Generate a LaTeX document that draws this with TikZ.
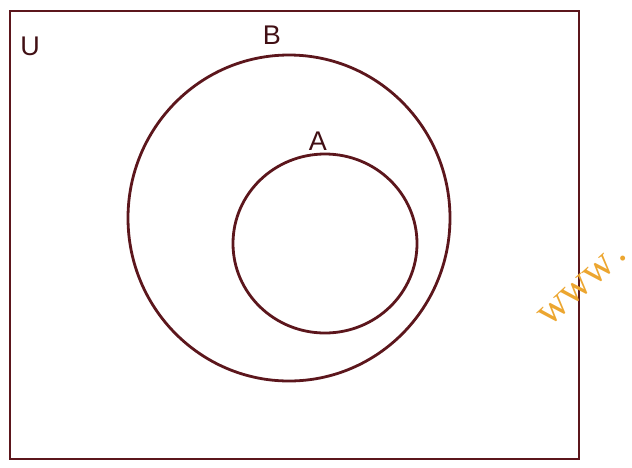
\documentclass[tikz,border=0pt]{standalone}
\usepackage{fontspec}
\setmainfont{Liberation Sans}
\newfontfamily\markfont{Liberation Serif}
\usepackage{tikz}
\usetikzlibrary{positioning}
\definecolor{vennline}{RGB}{92,22,28}
\definecolor{markorange}{RGB}{236,166,48}

\begin{document}
\begin{tikzpicture}[x=1pt,y=-1pt,
setline/.style={draw=vennline,line width=2.8pt},
lbl/.style={inner sep=0pt,text=vennline!70!black,font=\fontsize{27}{27}\selectfont},
wmark/.style={inner sep=0pt,text=markorange,font=\markfont\fontsize{42}{42}\selectfont,rotate=42,anchor=base west}]
\useasboundingbox (0,0) rectangle (632,467);
\draw[setline] (10,11) rectangle (579,459);
\coordinate (cB) at (289,218);
\coordinate (cA) at (325,243.5);
\draw[setline] (cB) ellipse [x radius=161,y radius=163];
\draw[setline] (cA) ellipse [x radius=92,y radius=89.5];
\node[lbl] at (30,46)(U){U};
\node[lbl] at (272,35)(B){B};
\node[lbl] at (318,141)(A){A};
\node[wmark] at (549,328)(www){www\kern5pt.};
\end{tikzpicture}
\end{document}
